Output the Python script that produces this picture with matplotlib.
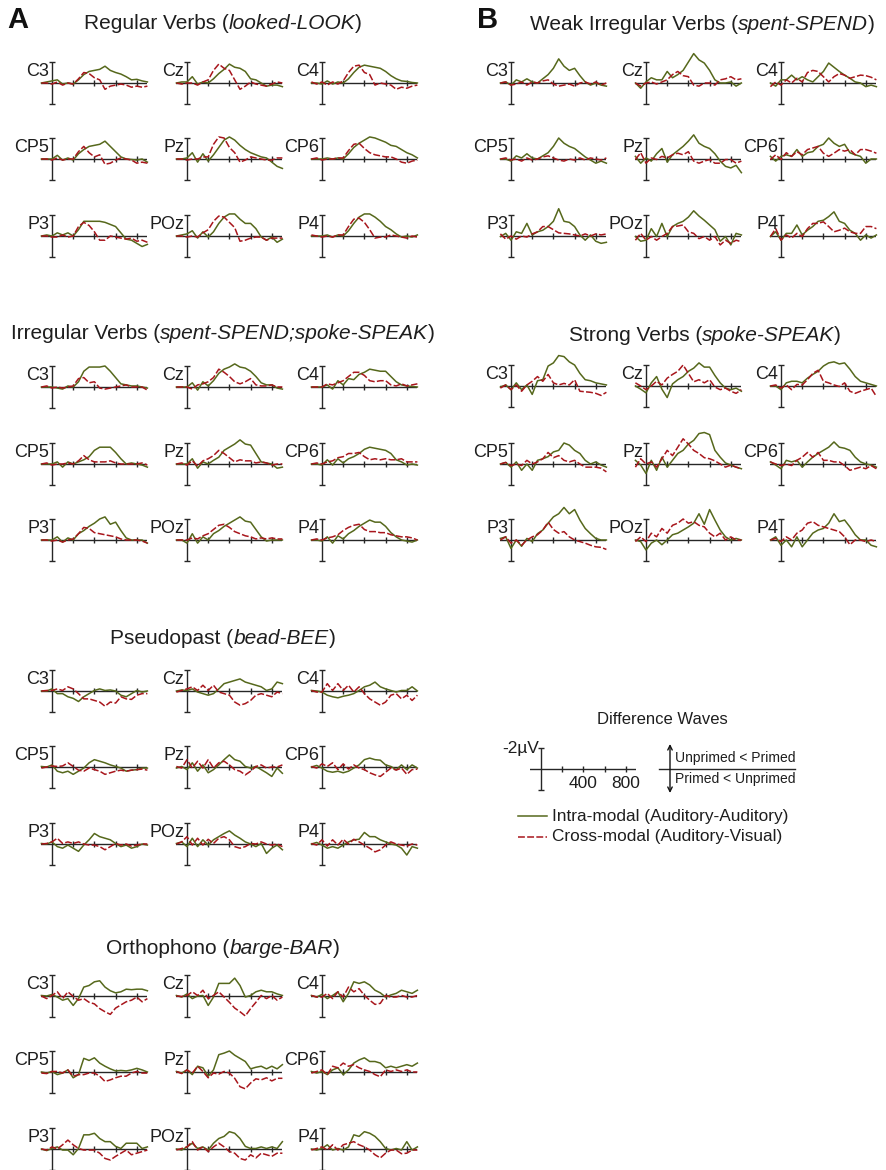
import matplotlib
matplotlib.use("Agg")
import matplotlib.pyplot as plt

plt.rcParams['font.family'] = ['Liberation Sans', 'DejaVu Sans']

# difference waves (negativity in microvolts, plotted upward), sampled every 50 ms
times = list(range(-100, 901, 50))
electrodes = ['C3', 'Cz', 'C4', 'CP5', 'Pz', 'CP6', 'P3', 'POz', 'P4']
tick_ms = [200, 400, 600, 800]

regular_intra = [
    [0, 0.1, 0.2, 0.3, -0.1, 0, -0.1, 0.3, 0.8, 1.1, 1.2, 1.3, 1.6, 1.2, 1.0, 0.85, 0.6, 0.3, 0.35, 0.2, 0.1],
    [0, 0.1, 0.1, 0.6, -0.1, 0.1, 0, 0.4, 0.9, 1.3, 1.8, 1.5, 1.4, 1.1, 0.4, 0.3, 0, -0.3, -0.2, -0.2, -0.35],
    [0, 0, -0.1, 0.2, -0.1, 0.1, 0, 0.4, 1.0, 1.5, 1.7, 1.6, 1.5, 1.4, 1.1, 0.7, 0.4, 0.2, 0.15, 0.05, 0],
    [0, 0, 0, 0.35, -0.1, 0.1, -0.1, 0.5, 0.9, 1.2, 1.3, 1.4, 1.7, 1.2, 0.7, 0.2, 0, -0.05, -0.1, 0, -0.3],
    [0, 0, 0.1, 0.6, -0.3, 0.5, -0.2, 0.4, 1.1, 1.8, 2.1, 1.8, 1.3, 0.9, 0.6, 0.4, 0.2, 0.1, -0.3, -0.7, -0.9],
    [0, 0, 0, 0.1, 0, 0.1, 0, 0.5, 1.1, 1.5, 1.8, 2.1, 2.0, 1.8, 1.6, 1.3, 1.2, 0.9, 0.6, 0.4, 0.1],
    [0, 0.1, 0, 0.3, 0.1, 0.3, 0, 0.6, 1.4, 1.4, 1.4, 1.4, 1.3, 1.1, 0.9, 0.3, -0.3, -0.4, -0.7, -1.0, -0.8],
    [0, 0.1, 0.2, 0.5, -0.2, 0.4, -0.1, 0.4, 1.2, 1.8, 2.1, 2.1, 1.6, 1.2, 1.2, 0.7, -0.1, -0.4, -0.1, -0.6, -0.3],
    [0, 0, 0, 0.1, -0.1, 0.1, 0, 0.5, 1.2, 1.8, 2.1, 2.1, 1.8, 1.4, 0.9, 0.6, 0.2, -0.1, 0, -0.1, 0.1],
]
regular_cross = [
    [0, 0, -0.1, 0.1, -0.2, 0, -0.1, 0.4, 1.0, 0.9, 0.5, 0.3, -0.6, -0.3, -0.2, -0.1, -0.2, -0.4, -0.3, -0.4, -0.3],
    [0, -0.1, 0, 0, -0.2, 0.1, 0.3, 1.2, 1.8, 1.4, 1.2, 0.3, -0.6, -0.3, 0.1, -0.1, -0.2, -0.3, -0.1, 0.1, 0],
    [0.1, -0.1, 0.1, -0.2, 0.1, -0.1, 0.2, 1.0, 1.6, 1.7, 1.0, 0.8, -0.2, 0, -0.1, -0.2, -0.6, -0.4, -0.5, -0.3, -0.2],
    [0, 0, -0.1, 0.1, -0.1, 0, 0, 0.7, 1.2, 0.6, 0.2, 0.4, -0.5, -0.4, -0.1, 0.1, 0, -0.1, -0.4, -0.3, -0.4],
    [0, 0, -0.1, 0, 0, 0.2, 0.2, 1.4, 2.1, 2.0, 1.1, 0.6, -0.3, -0.1, 0.2, 0.1, 0, -0.1, -0.1, 0.1, 0.1],
    [0, 0.1, -0.1, 0, 0, 0.1, 0.1, 0.8, 1.4, 1.5, 1.0, 0.6, 0.4, 0.3, 0.2, 0.2, 0, -0.3, -0.4, -0.2, -0.1],
    [0, 0, -0.1, -0.1, 0.1, -0.1, 0, 0.9, 1.3, 1.0, 0.4, -0.4, -0.4, 0, -0.1, -0.2, -0.3, -0.2, -0.5, -0.4, -0.6],
    [0, 0, -0.1, 0, -0.1, 0.3, 0.6, 1.4, 1.9, 1.8, 1.3, 0.8, -0.5, -0.4, -0.2, -0.1, -0.1, -0.4, -0.2, -0.2, -0.2],
    [0.1, 0, -0.1, 0, -0.1, 0.1, 0.1, 0.9, 1.6, 1.7, 1.3, 0.6, -0.2, -0.1, -0.1, 0.1, 0, -0.1, -0.2, 0, -0.1],
]

weak_intra = [
    [0, 0.1, -0.2, 0.3, 0.1, 0.4, 0.1, 0, 0.4, 0.8, 1.4, 2.3, 1.6, 1.2, 1.4, 0.7, 0.1, -0.2, 0, -0.2, -0.3],
    [0, -0.5, 0.1, 0.5, 0.3, 0.3, 1.1, 0.5, 0.8, 1.2, 2.0, 2.8, 2.2, 1.9, 1.2, 0.3, 0, 0, 0.1, -0.3, 0],
    [0, -0.3, 0.3, 0.3, 0.75, 0.3, 0.6, 0.3, 0.1, 0.6, 1.1, 1.9, 1.5, 1.1, 0.75, 0.45, 0.1, 0, -0.35, -0.2, -0.35],
    [0, 0, -0.2, 0.3, 0.1, 0.5, 0.1, 0, 0.3, 0.6, 1.2, 2.0, 1.5, 1.2, 1.0, 0.6, 0.2, -0.1, -0.4, -0.2, -0.4],
    [0.25, -0.4, 0.1, -0.2, 0.5, 1.0, -0.3, 0.4, 0.8, 1.2, 1.7, 2.3, 1.5, 1.2, 1.0, 0.5, -0.2, -0.7, -0.85, -0.6, -1.3],
    [0.25, -0.2, 0.25, 0.4, 0.25, 0.9, 0.25, 0.6, 0.7, 1.2, 1.4, 2.0, 1.5, 1.2, 1.4, 0.6, 0.4, 0.25, -0.4, 0, 0],
    [-0.05, 0.25, -0.4, 0.4, 0.25, 1.2, 0.1, 0.4, 0.55, 0.9, 1.4, 2.6, 1.4, 1.3, 0.9, 0.1, -0.4, 0.1, -0.5, -0.7, -0.6],
    [-0.05, -0.5, -0.4, 0.7, -0.05, 1.2, -0.05, 0.9, 1.2, 1.4, 1.8, 2.4, 1.9, 1.5, 1.05, 0.6, -0.5, -0.05, -0.85, 0.25, 0.1],
    [-0.05, 0.4, -0.4, 0.25, 0.25, 1.05, 0.1, 0.55, 0.9, 1.4, 1.5, 1.85, 2.3, 1.4, 1.2, 0.55, 0.25, -0.4, 0.1, -0.2, 0.1],
]
weak_cross = [
    [0, 0.1, -0.2, -0.1, 0.1, -0.2, 0.1, 0, 0.2, 0.3, -0.1, -0.3, -0.2, -0.1, -0.3, 0, 0.1, -0.1, 0.1, -0.2, 0],
    [0, -0.3, 0, 0.1, -0.1, 0.1, 0.3, 0.8, 1.1, 0.7, 0.6, -0.2, -0.3, 0, 0, -0.2, 0.3, 0.4, 0.6, 0.3, 0.4],
    [-0.35, 0.1, -0.2, 0.3, 0, 0.45, 0.1, 1.0, 1.2, 1.1, 0.6, 0.1, 0.6, 0.9, 0.75, 0.45, 0.6, 0.75, 0.7, 0.55, 0.3],
    [0, 0.1, -0.1, 0, -0.2, 0.1, -0.1, 0, 0.2, 0.3, 0.1, -0.1, -0.2, 0, -0.1, 0.1, -0.1, 0.1, 0, -0.1, 0.1],
    [-0.05, 0.6, -0.4, 0.1, -0.05, 0.25, 0.1, 0.4, 0.55, 0.4, 0.7, -0.2, -0.4, -0.2, -0.05, -0.4, -0.4, -0.05, -0.05, -0.4, -0.2],
    [-0.05, 0.4, -0.05, 0.6, 0.25, 0.7, 0.4, 0.9, 1.05, 1.2, 0.55, 0.25, 0.55, 0.9, 0.75, 0.9, 0.4, 0.9, 0.9, 0.75, 0.55],
    [0.2, -0.3, 0, -0.3, 0, -0.1, 0.2, 0.4, 0.9, 0.9, 0.6, 0.3, 0.25, 0.2, 0.1, 0, 0.2, 0, 0.2, 0.1, 0.2],
    [-0.4, 0.25, -0.4, -0.05, -0.4, -0.05, 0.25, 0.9, 0.95, 1.05, 0.4, 0.25, -0.25, -0.05, -0.4, -0.05, -0.85, -0.4, -0.7, -0.4, -0.55],
    [-0.05, 0.7, -0.4, 0.1, -0.2, 0.25, -0.05, 0.7, 1.2, 1.2, 1.35, 0.9, 0.4, 0.55, 0.75, 0.4, 0.25, 0.25, 0.9, 0.9, 0.7],
]

irreg_intra = [
    [0, 0, 0, -0.1, -0.2, 0.1, 0, 0.5, 1.5, 1.9, 1.9, 1.9, 2.0, 1.5, 0.9, 0.3, 0.2, 0.1, 0.1, 0, -0.1],
    [0, 0, 0, 0.4, -0.3, 0.5, 0.1, 0.6, 1.3, 1.7, 1.9, 2.2, 1.9, 1.8, 1.5, 1.0, 0.4, 0.2, 0.2, -0.1, -0.2],
    [0, 0, 0, 0.2, -0.2, 0.6, 0.2, 0.8, 0.7, 1.2, 1.4, 1.7, 1.6, 1.5, 1.5, 1.0, 0.5, 0.2, 0.1, 0.05, 0],
    [0, 0, 0, 0.2, -0.3, 0.2, 0, 0.2, 0.4, 0.7, 1.3, 1.6, 1.6, 1.6, 1.1, 0.5, 0, 0.1, 0, -0.1, -0.3],
    [0, 0, 0, 0.5, -0.4, 0.2, 0, 0.35, 0.65, 1.3, 1.6, 1.9, 2.3, 1.9, 1.8, 1.0, 0.2, 0.1, 0, -0.4, -0.3],
    [0, 0, -0.1, 0.4, -0.1, 0.5, 0.1, 0.5, 0.7, 1.0, 1.4, 1.6, 1.5, 1.4, 1.3, 1.0, 0.4, 0.2, -0.1, 0, -0.1],
    [0, 0, 0, 0.3, -0.2, 0.2, 0, 0.6, 0.9, 1.3, 1.6, 2.0, 2.2, 1.5, 1.7, 0.9, 0.2, 0, 0, 0, -0.3],
    [0, 0, -0.3, 0.6, -0.3, 0.3, 0, 0.6, 0.9, 1.3, 1.6, 1.9, 2.2, 1.8, 1.7, 1.0, 0.3, -0.1, 0, 0, 0],
    [0, 0, -0.1, 0.3, -0.3, 0.4, 0.1, 0.6, 0.9, 1.3, 1.6, 1.9, 1.7, 1.7, 1.3, 0.7, 0.3, 0, -0.1, -0.2, 0],
]
irreg_cross = [
    [0, 0.1, -0.1, 0, -0.1, 0, 0.1, 0.8, 0.9, 0.4, 0.5, -0.1, -0.2, -0.1, 0, 0.1, 0.2, 0, 0, 0, -0.3],
    [0, 0, 0, -0.2, 0.2, 0.3, 0.5, 0.9, 1.7, 1.4, 1.0, 0.5, 0.3, 0.5, 0.8, 0.2, 0.1, 0.1, 0.2, 0, 0],
    [0, 0, 0, 0.3, 0.2, 0.4, 0.6, 1.0, 1.4, 1.4, 1.1, 0.6, 0.5, 0.6, 0.6, 0.2, 0.1, 0.3, 0.1, 0.2, 0.3],
    [0, 0.1, -0.1, 0, 0, 0.1, 0, 0.3, 0.8, 0.4, 0.2, 0.2, 0.2, 0.3, 0.1, 0, 0, 0, 0, 0.1, -0.1],
    [0, 0.1, -0.1, 0.3, -0.2, 0.3, 0.5, 0.8, 1.3, 1.0, 0.6, 0.2, 0.4, 0.3, 0.3, 0.1, 0.2, 0.1, -0.1, 0, 0],
    [0, 0.1, 0, 0.2, 0.3, 0.6, 0.7, 1.0, 1.0, 1.1, 0.7, 0.4, 0.5, 0.4, 0.5, 0.4, 0.4, 0.5, 0.2, 0.2, 0.2],
    [0, 0, -0.1, 0, -0.2, 0, 0.1, 0.6, 1.2, 1.1, 0.7, 0.6, 0.5, 0.4, 0.3, 0.1, 0, 0, 0, -0.1, -0.3],
    [0, 0, 0, 0.2, 0.1, 0.4, 0.6, 1.0, 1.4, 1.5, 1.2, 0.8, 0.6, 0.4, 0.3, 0.1, 0.2, 0.1, 0.2, 0.1, 0.1],
    [0, 0.1, 0, 0.2, 0.3, 0.5, 0.9, 1.2, 1.4, 1.5, 1.0, 0.8, 0.8, 0.7, 0.7, 0.5, 0.4, 0.3, 0.3, 0.2, 0],
]

strong_intra = [
    [-0.1, 0.1, -0.35, 0.3, -0.35, 0.1, -0.8, 0.5, 0.6, 1.9, 2.2, 2.9, 2.8, 2.3, 2.0, 1.2, 0.6, 0.5, 0.3, 0.2, 0.1],
    [0, -0.3, -0.65, 0.3, 0.9, -0.3, -1.1, 0.2, 0.6, 0.9, 1.4, 1.7, 2.2, 1.8, 1.8, 1.0, 0.3, -0.2, -0.35, -0.2, -0.5],
    [0, 0, -0.35, 0.3, 0.45, 0.45, 0.3, 0.75, 1.1, 1.4, 1.9, 2.2, 2.3, 2.1, 2.2, 1.6, 0.9, 0.45, 0.3, 0.15, 0],
    [0, 0.15, -0.3, 0.2, -0.6, 0, -0.6, 0.35, 0.5, 0.7, 1.15, 1.3, 2.0, 1.8, 1.3, 1.0, 0.35, 0, 0.2, -0.1, -0.3],
    [0.35, -0.1, -0.9, 0.35, -0.6, 0.65, -0.3, 0.35, 1.0, 1.3, 1.9, 2.25, 2.9, 3.0, 2.8, 1.3, 0.65, 0.1, -0.1, -0.3, -0.45],
    [0.2, -0.1, -0.45, 0.35, 0.2, 0.35, -0.3, 0.2, 0.65, 1.0, 1.3, 1.6, 2.1, 1.6, 1.5, 1.3, 0.65, 0.2, 0, -0.1, -0.3],
    [0.15, 0.3, -0.8, 0, -0.6, 0.15, -0.15, 0.6, 0.95, 1.6, 2.2, 2.5, 3.1, 2.5, 2.9, 1.9, 1.1, 0.6, 0.15, 0, 0],
    [0, -0.15, -0.95, -0.3, 0, -0.45, 0, 0.5, 0.65, 0.95, 1.25, 1.6, 2.5, 1.5, 2.9, 1.9, 0.95, 0.3, 0, 0.15, 0],
    [0, 0.3, -0.5, 0, -0.65, 0.3, -0.65, 0, 0.65, 0.95, 1.1, 1.6, 2.5, 1.75, 1.9, 1.25, 0.5, 0, 0, -0.5, -0.65],
]
strong_cross = [
    [-0.2, 0.1, -0.35, 0.1, -0.5, 0.1, 0.45, 0.9, 0.45, 1.1, 0.3, 0.1, 0.25, 0.1, 0.6, -0.5, -0.55, -0.6, -0.7, -0.9, -0.6],
    [0.3, 0, -0.35, 0, 0.45, 0.1, 0.75, 1.1, 1.4, 2.0, 1.2, 0.4, 0.6, 0.3, 0.6, -0.1, -0.35, -0.2, -0.5, -0.7, -0.35],
    [0, 0.1, -0.2, 0.1, -0.35, 0.15, 0.1, 0.6, 1.2, 1.5, 0.45, 0.3, 0.1, -0.05, 0.3, -0.5, -0.7, -0.5, -0.35, -0.2, -1.0],
    [0, 0.15, -0.15, 0, -0.15, 0.35, 0, 0.2, 0.5, 1.1, 0.6, 0.8, 0.35, 0.2, 0.35, 0, -0.3, -0.3, -0.3, -0.4, -0.75],
    [-0.3, 0.5, 0, 0.2, -0.3, 0.5, 1.3, 0.8, 1.6, 2.4, 1.9, 1.3, 1.0, 0.6, 0.5, 0.3, 0, -0.3, -0.1, -0.3, -0.45],
    [0.2, 0, -0.15, 0, -0.15, 0.35, 0.65, 1.1, 0.65, 1.1, 0.35, 0.35, 0.2, 0.2, -0.15, -0.6, -0.45, -0.3, -0.45, -0.15, -0.45],
    [0, 0.3, -0.3, 0, -0.5, 0, 0.3, 0.5, 0.95, 1.7, 1.0, 0.65, 0.8, 0.3, 0, -0.15, -0.3, -0.5, -0.65, -0.7, -0.9],
    [-0.15, 0.3, -0.15, 0.65, 0.3, 1.1, 0.65, 1.4, 1.6, 2.0, 1.6, 1.75, 1.4, 1.25, 0.65, 0.3, 0.65, 0, 0.3, 0, 0],
    [0, 0.15, -0.15, 0.3, 0, 0.65, 0.95, 1.6, 1.75, 1.4, 1.25, 1.1, 0.95, 0.8, 0.3, -0.45, 0, 0, -0.15, 0, -0.15],
]

pseudo_intra = [
    [0, 0, 0.2, -0.25, -0.25, -0.55, -0.7, -1.0, -0.55, -0.25, 0.05, 0.2, 0.05, 0.1, 0, -0.4, -0.55, -0.25, 0.05, -0.1, 0],
    [0, 0.1, 0.05, 0.2, -0.1, -0.25, -0.4, -0.25, 0.2, 0.7, 0.85, 1.0, 1.15, 0.85, 0.7, 0.55, 0.4, 0.05, 0.2, 0.85, 0.7],
    [0.05, 0, -0.1, -0.4, -0.55, -0.65, -0.5, -0.4, -0.25, 0.05, 0.4, 0.55, 0.85, 0.4, 0.2, 0.05, -0.1, 0.05, 0.05, 0.4, 0],
    [0.05, 0, 0.2, -0.4, -0.55, -0.4, -0.7, -0.4, -0.1, 0.4, 0.7, 0.55, 0.4, 0.2, 0.05, -0.1, -0.4, -0.3, -0.25, -0.1, -0.1],
    [-0.1, 0.05, -0.25, 0.4, -0.4, 0.2, -0.55, -0.25, 0.2, 0.7, 1.15, 0.7, 0.55, 0.05, -0.1, 0.05, -0.25, -0.55, -0.9, -0.1, -0.6],
    [0, 0.15, -0.1, -0.4, -0.5, -0.4, -0.55, -0.4, -0.1, 0.2, 0.7, 0.85, 0.7, 0.65, 0.2, 0.05, -0.25, 0.2, -0.25, 0.2, -0.1],
    [0.05, 0, 0.2, -0.25, -0.4, -0.1, -0.4, -0.7, -0.1, 0.4, 1.0, 0.7, 0.55, 0.4, 0.05, -0.25, -0.1, -0.4, -0.25, 0, -0.1],
    [0.05, 0.2, -0.25, 0.55, -0.25, 0.4, -0.1, 0.4, 0.7, 1.0, 1.25, 0.85, 0.55, 0.2, 0, -0.25, 0.05, -0.9, -0.4, -0.1, -0.55],
    [0, 0.15, -0.1, -0.4, -0.25, -0.4, -0.1, 0.2, 0.4, 0.45, 1.1, 0.7, 0.7, 0.4, 0.2, 0, -0.1, -0.4, -1.05, -0.25, -0.4],
]
pseudo_cross = [
    [0, 0.05, 0.05, 0.2, 0.05, 0.4, 0.2, -0.25, -0.75, -0.75, -0.9, -1.05, -1.45, -1.05, -1.15, -0.55, -0.75, -0.8, -0.4, -0.25, -0.25],
    [-0.1, 0.05, 0.2, 0.4, 0.05, 0.55, 0.05, 0.55, -0.1, -0.25, -0.4, -1.05, -1.35, -1.2, -0.9, -0.4, -0.25, -0.4, -0.55, -0.1, -0.25],
    [0.05, -0.1, -0.1, 0.7, 0.05, 0.7, 0.05, 0.55, -0.1, 0.4, -0.25, -0.75, -1.05, -1.35, -1.05, -0.4, -0.25, -0.75, -0.4, -0.9, -0.4],
    [-0.1, 0, 0.1, 0.05, 0.1, 0.4, 0.05, -0.3, -0.4, -0.1, -0.25, -0.4, -0.7, -0.55, -0.4, -0.3, -0.4, -0.3, -0.25, -0.2, -0.3],
    [0.05, -0.1, 0.7, -0.1, 0.55, -0.1, 0.7, -0.1, 0.4, 0.55, 0.2, -0.25, -0.4, -0.75, -0.4, 0.05, 0.2, -0.1, 0, 0, 0.2],
    [0.05, -0.1, 0.3, 0.05, 0.4, -0.25, 0.3, -0.2, 0.2, -0.1, -0.25, -0.55, -0.75, -0.9, -0.5, -0.1, -0.3, -0.1, -0.7, -0.25, -0.2],
    [0, 0.05, 0.2, 0.55, 0.05, 0.2, 0.05, 0.2, 0, -0.1, -0.1, -0.25, -0.55, -0.25, 0.05, -0.1, 0, -0.2, -0.1, 0, 0],
    [0, 0.2, 0.7, -0.1, 0.55, -0.1, 0.45, 0.05, 0.55, 0.7, 0.4, -0.25, -0.4, -0.25, 0.05, 0, 0.2, 0, -0.1, 0, -0.25],
    [0.05, -0.1, 0.4, -0.2, 0.4, -0.1, 0.45, 0, 0.45, 0.2, -0.1, -0.4, -0.75, -0.55, -0.1, 0.2, 0, -0.1, -0.2, 0, -0.1],
]

ortho_intra = [
    [0.05, 0, 0.15, -0.1, -0.4, -0.25, -0.9, -0.25, 0.85, 1.0, 1.35, 1.45, 0.85, 0.5, 0.3, 0.4, 0.65, 0.6, 0.65, 0.65, 0.5],
    [0.05, -0.1, 0.2, -0.25, 0, 0.05, -0.9, -0.1, 1.2, 1.2, 1.2, 1.7, 1.0, -0.1, 0.05, 0.4, 0.55, 0.4, 0.4, 0.2, 0.05],
    [0.05, -0.1, 0.15, -0.25, 0.05, 0.4, -0.55, 0.25, 1.35, 1.2, 1.35, 1.05, 0.55, 0.3, -0.1, 0.1, 0.25, 0.55, 0.4, 0.25, 0.55],
    [0, -0.1, 0.05, -0.25, -0.1, 0.2, -0.55, -0.25, 1.3, 1.1, 1.35, 0.85, 0.55, 0.3, 0.1, 0.15, 0.1, 0.2, 0.35, 0.2, 0],
    [0.05, -0.1, 0.2, -0.25, 0.55, 0.4, -0.4, 0.2, 1.65, 1.8, 2.0, 1.6, 1.3, 1.0, 0.3, 0.45, 0.55, 0.3, 0.55, 0.3, 0.7],
    [0.05, -0.1, 0.05, -0.25, 0.2, 0.4, -0.25, 0.2, 0.85, 1.15, 1.35, 1.0, 1.0, 0.85, 0.4, 0.55, 0.4, 0.55, 0.7, 0.55, 0.85],
    [0, -0.15, 0.05, 0.2, -0.1, -0.1, -0.55, 0.05, 1.35, 1.35, 1.5, 1.0, 0.7, 0.7, 0.25, 0.05, 0.55, 0.55, 0.55, 0.05, 0.2],
    [0, -0.1, 0.2, 0.55, 0.05, 0.2, -0.1, 0.55, 1.0, 1.2, 1.65, 1.5, 1.0, 0.25, 0.05, 0.05, 0.2, 0.05, 0.2, 0.05, 0.7],
    [0, -0.1, 0.05, 0.4, -0.1, 0.05, -0.1, 0.2, 1.35, 1.2, 1.65, 1.5, 1.2, 0.7, 0.05, -0.1, 0.05, -0.1, 0.7, -0.1, 0.2],
]
ortho_cross = [
    [0, -0.25, 0.05, 0.4, -0.25, 0.4, -0.05, -0.4, -0.25, -0.6, -0.75, -1.2, -1.5, -1.75, -1.15, -0.85, -0.55, -0.4, -0.1, -0.55, -0.25],
    [0, -0.05, 0.05, 0.4, 0.05, 0.55, -0.25, 0.05, 0.4, -0.1, -0.6, -1.15, -1.5, -1.9, -1.2, -0.6, 0.05, -0.25, 0.05, -0.4, -0.1],
    [0.05, -0.1, -0.1, 0.25, -0.25, 0.4, -0.1, 0.85, 0.4, 0.7, 0.05, -0.4, -0.8, -0.7, 0.05, -0.1, -0.1, 0.05, -0.1, -0.1, 0.05],
    [-0.1, -0.15, 0.05, 0.05, -0.1, 0.2, -0.4, -0.25, -0.25, -0.1, -0.1, -0.4, -0.9, -0.75, -0.55, -0.4, -0.4, -0.1, 0.05, -0.1, -0.1],
    [0.05, -0.15, 0.2, -0.1, 0.55, 0.05, -0.55, -0.1, -0.2, 0.05, -0.1, -0.6, -1.4, -1.6, -1.05, -0.65, -0.75, -0.55, -0.85, -0.6, -0.6],
    [-0.1, 0.05, 0.2, -0.25, 0.55, 0.4, 0.85, 0.55, 0.7, 0.4, 0.2, 0.05, -0.25, -0.45, 0.2, 0.05, 0.2, 0.05, 0.2, 0, 0],
    [0, -0.1, 0.2, 0, 0.4, 0.85, 0.4, 0.05, -0.1, -0.1, -0.1, -0.4, -0.9, -1.05, -0.7, -0.4, -0.1, -0.55, -0.4, -0.25, -0.1],
    [-0.1, 0.05, 0.2, 0.7, -0.1, 0.2, -0.25, 0.2, 0.55, 0.2, -0.25, -0.4, -0.9, -1.05, -0.55, -0.85, -0.4, -0.55, -0.7, -0.4, -0.4],
    [-0.1, 0.05, 0.2, -0.1, 0.4, -0.1, 0.4, 0.55, 0.7, 0.4, 0.2, -0.1, -0.55, -0.85, -0.4, -0.1, -0.1, -0.45, -0.4, -0.1, -0.1],
]

W, H = 886, 1170
GREEN = '#56681c'
RED = '#a8161c'
AXC = '#262626'
TXT = '#1e1e1e'
DASH = (0, (4.5, 1.5))

fig = plt.figure(figsize=(W / 100, H / 100), dpi=100)
renderer = fig.canvas.get_renderer()


def fx(x):
    return x / W


def fy(y):
    return 1 - y / H


def mixed_title(xc, ybase, parts, size=15):
    styles = ['normal', 'italic', 'normal']
    texts = [fig.text(0, 0, s, fontsize=size, style=st, color=TXT, ha='left', va='baseline')
             for s, st in zip(parts, styles)]
    widths = [t.get_window_extent(renderer).width for t in texts]
    left = xc - sum(widths) / 2
    for t, w in zip(texts, widths):
        t.set_position((fx(left), fy(ybase)))
        left += w


def make_axes(x0, y0):
    # x0: pixel position of 0 ms, y0: pixel position of the baseline
    ax = fig.add_axes([fx(x0 - 10.6), fy(y0 + 21), 106 / W, 42 / H])
    ax.set_xlim(-100, 900)
    ax.set_ylim(-2, 2)
    ax.axis('off')
    ax.axhline(0, color=AXC, lw=1.0)
    ax.axvline(0, color=AXC, lw=1.0)
    ax.plot([0, 0], [-2, 2], ls='none', marker='_', ms=5, mew=1.0, color=AXC, clip_on=False)
    ax.plot(tick_ms, [0] * len(tick_ms), ls='none', marker='|', ms=4, mew=1.0, color=AXC)
    return ax


A_COLS = [52, 187, 322]
B_COLS = [511, 646, 781]

groups = [
    (("Regular Verbs (", "looked-LOOK", ")"), 223, 29, regular_intra, regular_cross, A_COLS, [83, 159, 236]),
    (("Irregular Verbs (", "spent-SPEND;spoke-SPEAK", ")"), 223, 339, irreg_intra, irreg_cross, A_COLS, [387, 464, 540]),
    (("Pseudopast (", "bead-BEE", ")"), 223, 644, pseudo_intra, pseudo_cross, A_COLS, [691, 767, 844]),
    (("Orthophono (", "barge-BAR", ")"), 223, 954, ortho_intra, ortho_cross, A_COLS, [996, 1072, 1149]),
    (("Weak Irregular Verbs (", "spent-SPEND", ")"), 702, 30, weak_intra, weak_cross, B_COLS, [83, 159, 236]),
    (("Strong Verbs (", "spoke-SPEAK", ")"), 705, 341, strong_intra, strong_cross, B_COLS, [386, 464, 540]),
]

for parts, tx, ty, intra, cross, cols, rows in groups:
    mixed_title(tx, ty, parts)
    for k, name in enumerate(electrodes):
        ax = make_axes(cols[k % 3], rows[k // 3])
        ax.plot(times, intra[k], color=GREEN, lw=1.1, clip_on=False)
        ax.plot(times, cross[k], color=RED, lw=1.1, ls=DASH, clip_on=False)
        ax.text(-25, 0.62, name, ha='right', va='baseline', fontsize=13, color=TXT)

fig.text(fx(7), fy(28), 'A', fontsize=21, fontweight='bold', color='#111111', va='baseline')
fig.text(fx(477), fy(28), 'B', fontsize=21, fontweight='bold', color='#111111', va='baseline')

# legend: scale bar
fig.text(fx(662), fy(724), 'Difference Waves', fontsize=12, color=TXT, ha='center', va='baseline')
lax = make_axes(541, 769)
lax.text(-20, 2.0, '-2µV', ha='right', va='center', fontsize=12.5, color=TXT)
lax.text(400, -1.35, '400', ha='center', va='center', fontsize=12.5, color=TXT)
lax.text(800, -1.35, '800', ha='center', va='center', fontsize=12.5, color=TXT)

ov = fig.add_axes([0, 0, 1, 1])
ov.set_xlim(0, W)
ov.set_ylim(H, 0)
ov.axis('off')
ov.plot([659, 795], [769, 769], color=AXC, lw=1.0)
ov.annotate('', xy=(670, 744), xytext=(670, 793),
            arrowprops=dict(arrowstyle='<->', color='#111111', lw=1.0,
                            shrinkA=0, shrinkB=0, mutation_scale=8))
ov.text(675, 758, 'Unprimed < Primed', fontsize=10, color=TXT, va='center')
ov.text(675, 779, 'Primed < Unprimed', fontsize=10, color=TXT, va='center')

ov.plot([518, 547], [816, 816], color=GREEN, lw=1.1)
ov.plot([518, 547], [837, 837], color=RED, lw=1.1, ls=DASH)
ov.text(552, 816, 'Intra-modal (Auditory-Auditory)', fontsize=12.4, color=TXT, va='center')
ov.text(552, 837, 'Cross-modal (Auditory-Visual)', fontsize=12.4, color=TXT, va='center')

fig.savefig('out.png', dpi=100)
